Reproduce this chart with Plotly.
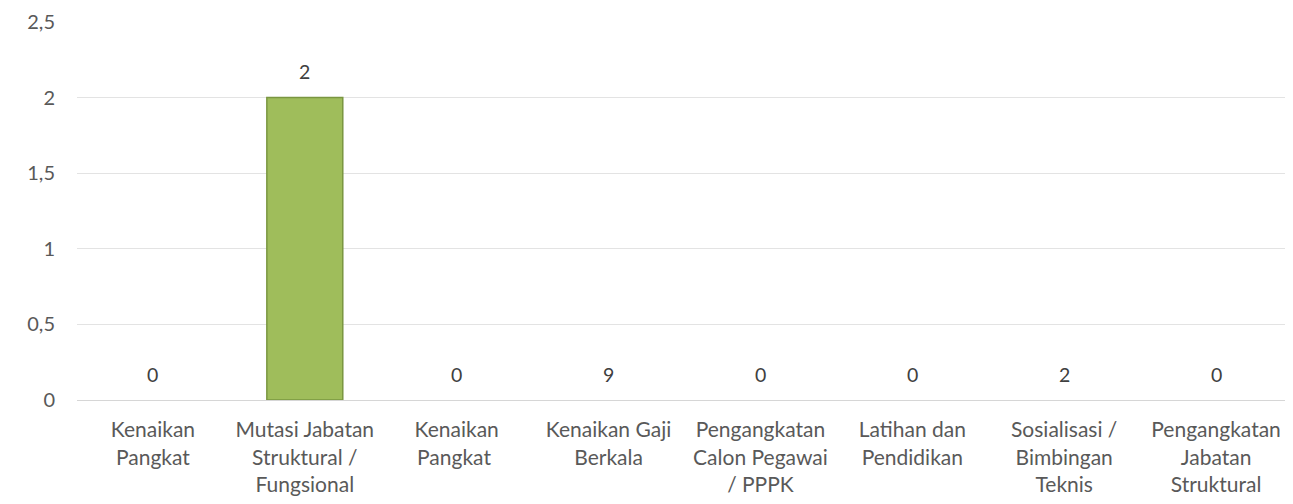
import plotly.graph_objects as go

categories = [
    "Kenaikan<br>Pangkat",
    "Mutasi Jabatan<br>Struktural /<br>Fungsional",
    "Kenaikan<br>Pangkat ",
    "Kenaikan Gaji<br>Berkala",
    "Pengangkatan<br>Calon Pegawai<br>/ PPPK",
    "Latihan dan<br>Pendidikan",
    "Sosialisasi /<br>Bimbingan<br>Teknis",
    "Pengangkatan<br>Jabatan<br>Struktural",
]
values = [0, 2, 0, 0, 0, 0, 0, 0]
data_labels = ["0", "2", "0", "9", "0", "0", "2", "0"]
y_ticks = [0, 0.5, 1, 1.5, 2, 2.5]

FONT = "Lato, 'Open Sans', sans-serif"

fig = go.Figure(
    go.Bar(
        x=categories,
        y=values,
        marker=dict(
            color="#9fbd5b",
            line=dict(color="#7a9640", width=[1.5 if v else 0 for v in values]),
        ),
        width=0.5,
        hoverinfo="x+y",
    )
)

for cat, v, lab in zip(categories, values, data_labels):
    fig.add_annotation(
        x=cat, y=v, text=lab, showarrow=False,
        yanchor="middle", yshift=26,
        font=dict(size=19.5, color="#404040", family=FONT),
    )

fig.update_layout(
    width=1285,
    height=496,
    margin=dict(l=69, r=1, t=14, b=104),
    plot_bgcolor="white",
    paper_bgcolor="white",
    separators=",.",
    showlegend=False,
    font=dict(family=FONT, size=20, color="#595959"),
)
fig.update_xaxes(
    showgrid=False,
    showline=True,
    linecolor="#d6d6d6",
    linewidth=1,
    ticks="",
    ticklabelstandoff=11,
    tickfont=dict(size=21, color="#595959"),
    automargin=False,
)
fig.update_yaxes(
    range=[0, 2.5],
    tickvals=y_ticks,
    tickformat=".1~f",
    showgrid=True,
    gridcolor="#e3e3e3",
    gridwidth=1,
    zeroline=False,
    showline=False,
    ticks="",
    ticklabelstandoff=21,
    tickfont=dict(size=20, color="#595959"),
    automargin=False,
)

fig.write_html("out.html")
